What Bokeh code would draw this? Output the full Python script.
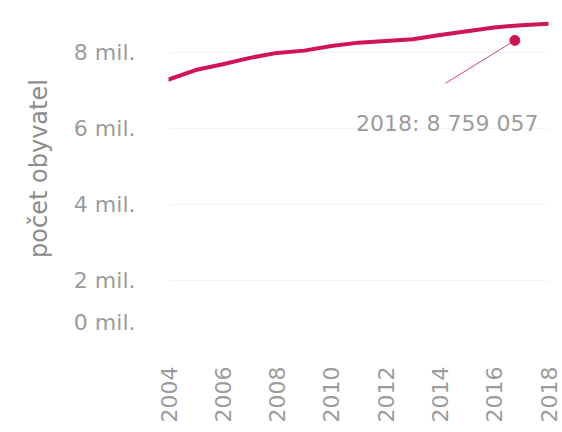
import math
from bokeh.plotting import figure
from bokeh.models import FixedTicker, Range1d
from bokeh.core.properties import value
from bokeh.embed import file_html
from bokeh.resources import INLINE

# ---- data ----
years = [2004, 2005, 2006, 2007, 2008, 2009, 2010, 2011, 2012, 2013, 2014, 2015, 2016, 2017, 2018]
population = [7290000, 7540000, 7690000, 7860000, 7990000, 8050000, 8170000, 8260000,
              8300000, 8350000, 8460000, 8560000, 8660000, 8720000, 8759057]
x_ticks = [2004, 2006, 2008, 2010, 2012, 2014, 2016, 2018]
y_tick_labels = ["0 mil.", "2 mil.", "4 mil.", "6 mil.", "8 mil."]
y_tick_values = [900000, 2000000, 4000000, 6000000, 8000000]
annotation_text = "2018: 8 759 057"
y_title = "počet obyvatel"

# ---- style ----
LINE_COLOR = "#d0145a"
TEXT_COLOR = "#9c9c9c"
FONT = "DejaVu Sans"

p = figure(width=560, height=428, output_backend="svg", toolbar_location=None,
           x_range=Range1d(2004, 2018), y_range=Range1d(900000, 9000000),
           min_border_left=168, min_border_right=12, min_border_top=14, min_border_bottom=106)
p.outline_line_color = None
p.background_fill_color = "white"
p.border_fill_color = "white"

p.line(years, population, line_color=LINE_COLOR, line_width=4, line_cap="round", line_join="round")

# annotation (positioned relative to the last data point)
lx, ly = years[-1], population[-1]
dot_x, dot_y = lx - 1.24, ly - 440000
lead_x, lead_y = lx - 3.8, ly - 1570000
txt_x, txt_y = lx - 3.73, ly - 2620000
p.segment(x0=[dot_x], y0=[dot_y], x1=[lead_x], y1=[lead_y], line_color=LINE_COLOR, line_width=1, line_alpha=0.8)
p.scatter([dot_x], [dot_y], size=10, color=LINE_COLOR)
p.text(x=[txt_x], y=[txt_y], text=[annotation_text], text_font=value(FONT), text_font_size="22px",
       text_color=TEXT_COLOR, text_align="center", text_baseline="middle")

# axes
xa = p.xaxis[0]
xa.ticker = FixedTicker(ticks=x_ticks)
xa.major_label_orientation = math.pi / 2
xa.axis_line_color = None
xa.major_tick_line_color = None
xa.minor_tick_line_color = None
xa.major_tick_out = 0
xa.major_tick_in = 0
xa.major_label_standoff = 44
xa.major_label_text_font = FONT
xa.major_label_text_font_size = "22px"
xa.major_label_text_color = TEXT_COLOR

ya = p.yaxis[0]
ya.ticker = FixedTicker(ticks=y_tick_values)
ya.major_label_overrides = {v: l for v, l in zip(y_tick_values, y_tick_labels)}
ya.axis_line_color = None
ya.major_tick_line_color = None
ya.minor_tick_line_color = None
ya.major_tick_out = 0
ya.major_tick_in = 0
ya.major_label_standoff = 33
ya.major_label_text_font = FONT
ya.major_label_text_font_size = "22px"
ya.major_label_text_color = TEXT_COLOR
ya.axis_label = y_title
ya.axis_label_text_font = FONT
ya.axis_label_text_font_size = "24px"
ya.axis_label_text_font_style = "normal"
ya.axis_label_text_color = "#8c8c8c"
ya.axis_label_standoff = 18

p.xgrid.grid_line_color = None
p.ygrid.grid_line_color = "#f3f3f3"
p.ygrid.grid_line_width = 1

open("out.html", "w").write(file_html(p, INLINE))
